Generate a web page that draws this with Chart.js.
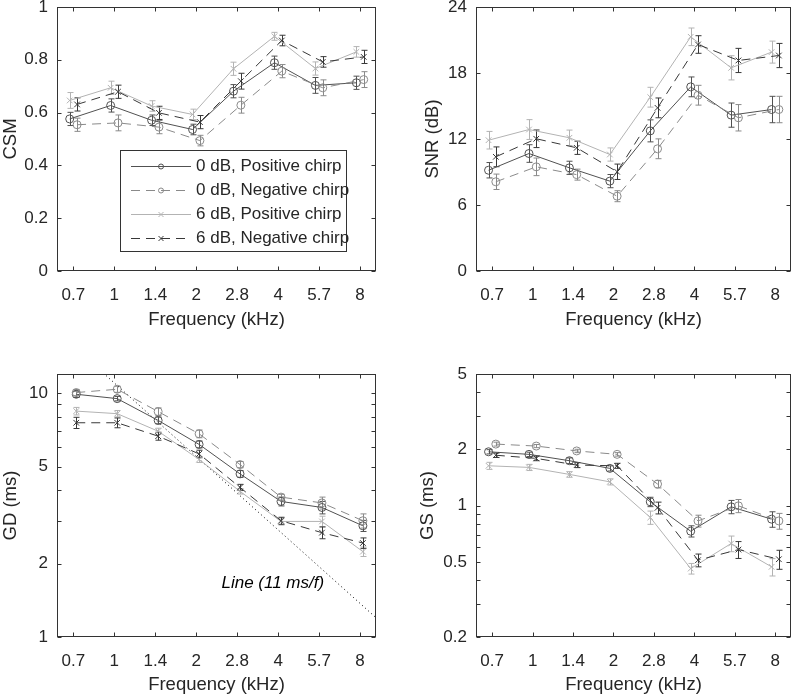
<!DOCTYPE html>
<html>
<head>
<meta charset="utf-8">
<script src="https://cdn.jsdelivr.net/npm/chart.js@4.4.1/dist/chart.umd.min.js"></script>
<style>
  body { margin: 0; background: #fff; width: 796px; height: 695px; position: relative; overflow: hidden; }
  canvas { position: absolute; }
</style>
</head>
<body>
<canvas id="csmChart" width="398" height="347" style="left:0;top:0;width:398px;height:347px"></canvas>
<canvas id="snrChart" width="396" height="347" style="left:400px;top:0;width:396px;height:347px"></canvas>
<canvas id="gdChart" width="398" height="348" style="left:0;top:347px;width:398px;height:348px"></canvas>
<canvas id="gsChart" width="396" height="348" style="left:400px;top:347px;width:396px;height:348px"></canvas>
<script>
// ---------- data ----------
const freqLabels = ['0.7', '1', '1.4', '2', '2.8', '4', '5.7', '8'];
const seriesLabels = ['0 dB, Positive chirp', '0 dB, Negative chirp', '6 dB, Positive chirp', '6 dB, Negative chirp'];

// CSM
const csmPos0 = [0.576, 0.627, 0.571, 0.536, 0.681, 0.789, 0.703, 0.713];
const csmNeg0 = [0.554, 0.561, 0.545, 0.494, 0.628, 0.757, 0.694, 0.725];
const csmPos6 = [0.646, 0.694, 0.625, 0.593, 0.766, 0.889, 0.767, 0.830];
const csmNeg6 = [0.631, 0.679, 0.599, 0.564, 0.719, 0.873, 0.792, 0.811];
const csmPos0Err = [0.025, 0.025, 0.02, 0.02, 0.025, 0.025, 0.03, 0.025];
const csmNeg0Err = [0.025, 0.03, 0.025, 0.02, 0.03, 0.025, 0.03, 0.03];
const csmPos6Err = [0.03, 0.025, 0.02, 0.02, 0.025, 0.015, 0.025, 0.02];
const csmNeg6Err = [0.025, 0.025, 0.025, 0.025, 0.03, 0.02, 0.02, 0.025];

// SNR (dB)
const snrPos0 = [9.16, 10.68, 9.38, 8.17, 12.74, 16.74, 14.17, 14.68];
const snrNeg0 = [8.11, 9.47, 8.76, 6.80, 11.11, 15.98, 13.93, 14.68];
const snrPos6 = [11.89, 12.86, 12.11, 10.59, 15.80, 21.29, 18.47, 19.90];
const snrNeg6 = [10.38, 12.02, 11.20, 9.02, 14.83, 20.59, 19.14, 19.59];
const snrPos0Err = [0.7, 0.8, 0.6, 0.6, 1.0, 0.9, 1.1, 1.2];
const snrNeg0Err = [0.7, 0.8, 0.5, 0.5, 0.9, 0.9, 1.2, 1.2];
const snrPos6Err = [0.8, 0.9, 0.7, 0.6, 0.9, 0.8, 1.1, 1.0];
const snrNeg6Err = [0.9, 0.8, 0.6, 0.7, 0.9, 0.8, 1.1, 1.1];

// GD (ms)
const gdPos0 = [9.91, 9.51, 7.74, 6.17, 4.67, 3.60, 3.40, 2.86];
const gdNeg0 = [10.07, 10.39, 8.41, 6.82, 5.10, 3.75, 3.55, 3.00];
const gdPos6 = [8.45, 8.25, 6.99, 5.35, 3.96, 2.98, 2.98, 2.24];
const gdNeg6 = [7.57, 7.57, 6.67, 5.64, 4.11, 3.00, 2.68, 2.43];
const gdPos0Err = [0.3, 0.2, 0.25, 0.2, 0.15, 0.15, 0.2, 0.15];
const gdNeg0Err = [0.3, 0.3, 0.3, 0.25, 0.15, 0.1, 0.2, 0.2];
const gdPos6Err = [0.3, 0.25, 0.2, 0.15, 0.1, 0.1, 0.15, 0.1];
const gdNeg6Err = [0.4, 0.35, 0.25, 0.2, 0.12, 0.1, 0.15, 0.12];
// "Line (11 ms/f)" end points (x in frequency-step units)
const gdRefX = [0, 7.39];
const gdRefY = [15.6, 1.2];

// GS (ms)
const gsPos0 = [1.93, 1.87, 1.73, 1.575, 1.046, 0.730, 0.984, 0.846];
const gsNeg0 = [2.12, 2.07, 1.95, 1.87, 1.30, 0.828, 0.996, 0.828];
const gsPos6 = [1.626, 1.594, 1.463, 1.336, 0.864, 0.462, 0.628, 0.472];
const gsNeg6 = [1.85, 1.78, 1.64, 1.626, 0.972, 0.512, 0.583, 0.518];
const gsPos0Err = [0.05, 0.05, 0.06, 0.05, 0.06, 0.05, 0.08, 0.08];
const gsNeg0Err = [0.05, 0.04, 0.04, 0.04, 0.06, 0.06, 0.08, 0.08];
const gsPos6Err = [0.07, 0.06, 0.05, 0.05, 0.07, 0.03, 0.06, 0.05];
const gsNeg6Err = [0.05, 0.05, 0.05, 0.05, 0.07, 0.04, 0.06, 0.06];

// axis ticks
const csmTicks = [0, 0.2, 0.4, 0.6, 0.8, 1];
const snrTicks = [0, 6, 12, 18, 24];
const gdTicks = [1, 2, 3, 4, 5, 6, 7, 8, 9, 10];
const gdTickLabels = [1, 2, 5, 10];
const gsTicks = [0.2, 0.3, 0.4, 0.5, 0.6, 0.7, 0.8, 0.9, 1, 2, 3, 4, 5];
const gsTickLabels = [0.2, 0.5, 1, 2, 5];

// ---------- styling ----------
const FONT = '"Liberation Sans", Arial, Helvetica, sans-serif';
const textColor = '#262626';
const axisColor = '#333333';
const tickFont = { family: FONT, size: 17 };
const titleFont = { family: FONT, size: 18.5 };
const xMin = -0.4, xMax = 7.39;

const seriesStyles = [
    { color: '#515151', dash: [], marker: 'circle' },
    { color: '#8a8a8a', dash: [9, 6], marker: 'circle' },
    { color: '#b3b3b3', dash: [], marker: 'crossRot' },
    { color: '#383838', dash: [9, 6], marker: 'crossRot' }
];

function buildSeries(values, errors, offsets) {
    return values.map((vals, s) => ({
        label: seriesLabels[s],
        data: vals.map((v, i) => ({ x: i + offsets[s], y: v })),
        errors: errors[s],
        borderColor: seriesStyles[s].color,
        borderWidth: 1,
        borderDash: seriesStyles[s].dash,
        pointStyle: seriesStyles[s].marker,
        pointRadius: 4,
        pointBorderWidth: 1,
        pointBorderColor: seriesStyles[s].color,
        pointBackgroundColor: 'rgba(0,0,0,0)',
        fill: false,
        tension: 0,
        clip: 0,
        order: 3 - s
    }));
}

// error bars drawn under the lines, using the y scale of each chart
const errorBars = {
    id: 'errorBars',
    beforeDatasetsDraw(chart) {
        const { ctx, chartArea: a, scales: { y } } = chart;
        const cap = 3;
        ctx.save();
        ctx.beginPath();
        ctx.rect(a.left, a.top, a.right - a.left, a.bottom - a.top);
        ctx.clip();
        chart.data.datasets.forEach((ds, i) => {
            if (!ds.errors) return;
            const meta = chart.getDatasetMeta(i);
            ctx.strokeStyle = ds.borderColor;
            ctx.lineWidth = 1;
            ctx.setLineDash([]);
            ctx.beginPath();
            meta.data.forEach((pt, j) => {
                const v = ds.data[j].y, e = ds.errors[j];
                const yTop = y.getPixelForValue(v + e);
                const yBot = y.getPixelForValue(v - e);
                const px = Math.round(pt.x) + 0.5;
                ctx.moveTo(px, yTop); ctx.lineTo(px, yBot);
                ctx.moveTo(px - cap, yTop); ctx.lineTo(px + cap, yTop);
                ctx.moveTo(px - cap, yBot); ctx.lineTo(px + cap, yBot);
            });
            ctx.stroke();
        });
        ctx.restore();
    }
};

// MATLAB-like box with inward ticks on all four sides
const axesBox = {
    id: 'axesBox',
    afterDatasetsDraw(chart) {
        const { ctx, chartArea: a, scales: { x, y } } = chart;
        const len = 4;
        const L = Math.round(a.left) + 0.5, R = Math.round(a.right) - 0.5;
        const T = Math.round(a.top) + 0.5, B = Math.round(a.bottom) - 0.5;
        ctx.save();
        ctx.strokeStyle = axisColor;
        ctx.lineWidth = 1;
        ctx.setLineDash([]);
        ctx.strokeRect(L, T, R - L, B - T);
        ctx.beginPath();
        x.ticks.forEach(t => {
            const px = Math.round(x.getPixelForValue(t.value)) + 0.5;
            ctx.moveTo(px, B); ctx.lineTo(px, B - len);
            ctx.moveTo(px, T); ctx.lineTo(px, T + len);
        });
        y.ticks.forEach(t => {
            const py = Math.round(y.getPixelForValue(t.value)) + 0.5;
            ctx.moveTo(L, py); ctx.lineTo(L + len, py);
            ctx.moveTo(R, py); ctx.lineTo(R - len, py);
        });
        ctx.stroke();
        ctx.restore();
    }
};

function drawMarker(ctx, style, x, y, r) {
    ctx.beginPath();
    if (style === 'circle') {
        ctx.arc(x, y, r, 0, Math.PI * 2);
    } else {
        ctx.moveTo(x - r, y - r); ctx.lineTo(x + r, y + r);
        ctx.moveTo(x - r, y + r); ctx.lineTo(x + r, y - r);
    }
    ctx.stroke();
}

// boxed legend inside the CSM axes
const boxedLegend = {
    id: 'boxedLegend',
    afterDraw(chart) {
        const { ctx } = chart;
        const box = { x: 120.5, y: 150.5, w: 226, h: 101 };
        ctx.save();
        ctx.fillStyle = '#fff';
        ctx.fillRect(box.x, box.y, box.w, box.h);
        ctx.strokeStyle = axisColor;
        ctx.lineWidth = 1;
        ctx.strokeRect(box.x, box.y, box.w, box.h);
        ctx.font = '17px ' + FONT;
        ctx.textBaseline = 'middle';
        ctx.textAlign = 'left';
        chart.data.datasets.forEach((ds, i) => {
            const yy = 166 + i * 24 + 0.5;
            ctx.strokeStyle = ds.borderColor;
            ctx.setLineDash(ds.borderDash);
            ctx.beginPath();
            ctx.moveTo(131, yy); ctx.lineTo(191, yy);
            ctx.stroke();
            ctx.setLineDash([]);
            drawMarker(ctx, ds.pointStyle, 161, yy, 2.5);
            ctx.fillStyle = textColor;
            ctx.fillText(ds.label, 196, yy);
        });
        ctx.restore();
    }
};

// "Line (11 ms/f)" note placed through the GD scales
const refNote = {
    id: 'refNote',
    afterDatasetsDraw(chart) {
        const { ctx, scales: { x, y } } = chart;
        ctx.save();
        ctx.font = 'italic 17px ' + FONT;
        ctx.fillStyle = '#000';
        ctx.textAlign = 'center';
        ctx.textBaseline = 'middle';
        ctx.fillText('Line (11 ms/f)', x.getPixelForValue(4.87), y.getPixelForValue(1.66));
        ctx.restore();
    }
};

function xScale(height, titlePad) {
    return {
        type: 'linear', min: xMin, max: xMax,
        afterBuildTicks: s => { s.ticks = freqLabels.map((_, i) => ({ value: i })); },
        afterFit: s => { s.height = height; s.paddingLeft = 0; s.paddingRight = 0; },
        grid: { display: false, drawTicks: false }, border: { display: false },
        ticks: { autoSkip: false, maxRotation: 0, padding: 14, color: textColor, font: tickFont,
                 callback: v => freqLabels[v] },
        title: { display: true, text: 'Frequency (kHz)', color: textColor, font: titleFont,
                 padding: { top: 0, bottom: titlePad } }
    };
}

function yScale(type, min, max, ticks, labelled, width, title, titlePad) {
    return {
        type, min, max,
        afterBuildTicks: s => { s.ticks = ticks.map(v => ({ value: v })); },
        afterFit: s => { s.width = width; s.paddingTop = 0; s.paddingBottom = 0; },
        grid: { display: false, drawTicks: false }, border: { display: false },
        ticks: { autoSkip: false, padding: 9, color: textColor, font: tickFont,
                 callback: v => labelled.includes(v) ? String(v) : '' },
        title: { display: true, text: title, color: textColor, font: titleFont,
                 padding: { top: titlePad, bottom: 0 } }
    };
}

function makePanel(id, datasets, scales, padding, extraPlugins) {
    return new Chart(document.getElementById(id), {
        type: 'line',
        data: { datasets },
        options: {
            responsive: false,
            animation: false,
            devicePixelRatio: 1,
            layout: { padding },
            plugins: { legend: { display: false }, tooltip: { enabled: false } },
            scales
        },
        plugins: [errorBars, axesBox].concat(extraPlugins || [])
    });
}

const sideOffsets = [-0.09, 0.09, -0.09, 0.09];
const gdOffsets = [0.07, 0.07, 0.07, 0.07];

makePanel('csmChart',
    buildSeries([csmPos0, csmNeg0, csmPos6, csmNeg6], [csmPos0Err, csmNeg0Err, csmPos6Err, csmNeg6Err], sideOffsets),
    { x: xScale(76, 16), y: yScale('linear', 0, 1, csmTicks, csmTicks, 57, 'CSM', 0) },
    { top: 7, right: 22, bottom: 0, left: 0 }, [boxedLegend]);

makePanel('snrChart',
    buildSeries([snrPos0, snrNeg0, snrPos6, snrNeg6], [snrPos0Err, snrNeg0Err, snrPos6Err, snrNeg6Err], sideOffsets),
    { x: xScale(76, 16), y: yScale('linear', 0, 24, snrTicks, snrTicks, 76, 'SNR (dB)', 22) },
    { top: 7, right: 1, bottom: 0, left: 0 });

const gdSeries = buildSeries([gdPos0, gdNeg0, gdPos6, gdNeg6], [gdPos0Err, gdNeg0Err, gdPos6Err, gdNeg6Err], gdOffsets);
gdSeries.push({
    label: 'Line (11 ms/f)',
    data: gdRefX.map((x, i) => ({ x, y: gdRefY[i] })),
    borderColor: '#000', borderWidth: 1, borderDash: [1, 3],
    pointRadius: 0, fill: false, clip: 0, order: 10
});
makePanel('gdChart', gdSeries,
    { x: xScale(58, -1), y: yScale('logarithmic', 1, 12, gdTicks, gdTickLabels, 57, 'GD (ms)', 0) },
    { top: 27, right: 22, bottom: 0, left: 0 }, [refNote]);

makePanel('gsChart',
    buildSeries([gsPos0, gsNeg0, gsPos6, gsNeg6], [gsPos0Err, gsNeg0Err, gsPos6Err, gsNeg6Err], sideOffsets),
    { x: xScale(58, -1), y: yScale('logarithmic', 0.2, 5, gsTicks, gsTickLabels, 76, 'GS (ms)', 17) },
    { top: 27, right: 1, bottom: 0, left: 0 });
</script>
</body>
</html>
